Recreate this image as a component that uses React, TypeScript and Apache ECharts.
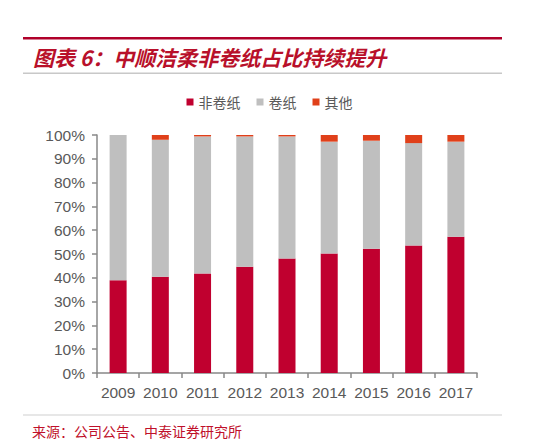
import React, { useEffect, useRef } from 'react';
import * as echarts from 'echarts';

const years = ['2009', '2010', '2011', '2012', '2013', '2014', '2015', '2016', '2017'];
// 非卷纸 / 卷纸 / 其他 占比 (%)
const nonRoll = [39.0, 40.4, 41.8, 44.6, 48.1, 50.2, 52.2, 53.6, 57.2];
const other = [0, 2.0, 0.6, 0.6, 0.6, 2.8, 2.4, 3.4, 2.8];
const roll = nonRoll.map((v, i) => +(100 - v - other[i]).toFixed(1));

const seriesNames = ['非卷纸', '卷纸', '其他'];
const colors = ['#C0002F', '#BFBFBF', '#E0401A'];

const titleText = '图表 6：中顺洁柔非卷纸占比持续提升';
const sourceText = '来源：公司公告、中泰证券研究所';

const cjk = '"Noto Sans CJK SC", sans-serif';
const latin = '"Liberation Sans", Arial, sans-serif';

export default function App() {
  const chartRef = useRef<HTMLDivElement>(null);

  useEffect(() => {
    if (!chartRef.current) return;
    const chart = echarts.init(chartRef.current, undefined, { renderer: 'svg' });

    const option: echarts.EChartsOption = {
      animation: false,
      backgroundColor: '#fff',
      color: colors,
      grid: { left: 97, right: 62, top: 135, bottom: 68 },
      legend: {
        top: 90,
        left: 'center',
        itemWidth: 7,
        itemHeight: 7,
        itemGap: 16,
        icon: 'rect',
        textStyle: { color: '#595959', fontSize: 14, fontFamily: cjk },
        data: seriesNames,
      },
      xAxis: {
        type: 'category',
        data: years,
        axisLine: { lineStyle: { color: '#888', width: 1.5 } },
        axisTick: { show: true, length: 5, lineStyle: { color: '#888', width: 1.5 } },
        axisLabel: { color: '#595959', fontSize: 15.5, fontFamily: latin, margin: 11, interval: 0 },
      },
      yAxis: {
        type: 'value',
        min: 0,
        max: 100,
        interval: 10,
        axisLine: { show: true, lineStyle: { color: '#888', width: 1.5 } },
        axisTick: { show: true, length: 5, lineStyle: { color: '#888', width: 1.5 } },
        splitLine: { show: false },
        axisLabel: { color: '#595959', fontSize: 15.5, fontFamily: latin, formatter: '{value}%', margin: 12 },
      },
      series: [
        { name: seriesNames[0], type: 'bar', stack: 'total', data: nonRoll, barWidth: 17 },
        { name: seriesNames[1], type: 'bar', stack: 'total', data: roll, barWidth: 17 },
        { name: seriesNames[2], type: 'bar', stack: 'total', data: other, barWidth: 17 },
      ],
      graphic: [
        { type: 'rect', shape: { x: 23, y: 37, width: 479, height: 2.5 }, style: { fill: '#B0002A' } },
        {
          type: 'text',
          x: 33,
          y: 57,
          style: {
            text: titleText,
            fill: '#B8102A',
            font: `italic bold 21px ${cjk}`,
            verticalAlign: 'middle',
          },
        },
        { type: 'rect', shape: { x: 23, y: 72.5, width: 479, height: 1.5 }, style: { fill: '#C8C8C8' } },
        { type: 'rect', shape: { x: 23, y: 414.5, width: 479, height: 1 }, style: { fill: '#CFCFCF' } },
        {
          type: 'text',
          x: 32,
          y: 431,
          style: {
            text: sourceText,
            fill: '#C0102A',
            font: `14px ${cjk}`,
            verticalAlign: 'middle',
          },
        },
      ],
    };

    chart.setOption(option);
    return () => chart.dispose();
  }, []);

  return (
    <div
      ref={chartRef}
      style={{ position: 'fixed', left: 0, top: 0, width: 539, height: 441 }}
    />
  );
}
